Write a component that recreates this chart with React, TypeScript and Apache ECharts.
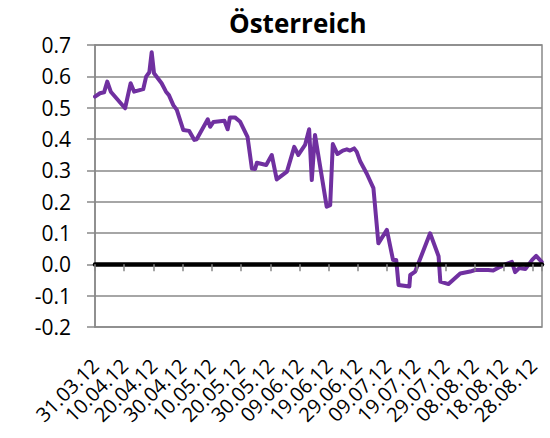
import React, { useEffect, useRef } from "react";
import * as echarts from "echarts";

// Days since 31.03.12 (x) and values (y)
const dayOffsets: number[] = [
  0.0, 1.7, 3.1, 4.2, 5.4, 10.3, 12.2, 13.4, 16.5, 17.5, 18.6, 19.4, 20.2, 22.8, 24.3, 25.3, 26.8, 28.0,
  30.2, 32.2, 34.0, 34.8, 38.6, 39.4, 40.5, 44.3, 45.4, 46.2, 47.9, 49.7, 52.2, 53.7, 54.8, 55.4,
  58.6, 60.5, 62.2, 65.7, 68.2, 69.6, 71.9, 73.3, 74.2, 75.3, 79.3, 80.5, 81.4, 83.0, 84.8, 86.2,
  87.3, 88.7, 89.6, 90.8, 93.0, 95.3, 97.0, 99.9, 102.0, 103.1, 103.9, 107.6, 107.9, 109.6, 114.7,
  117.6, 118.2, 121.0, 125.0, 128.4, 130.1, 134.6, 136.3, 138.7, 140.4, 142.7, 143.8, 145.2, 147.3,
  149.7, 151.0, 152.9,
];
const values: number[] = [
  0.535, 0.546, 0.549, 0.583, 0.551, 0.498, 0.578, 0.551, 0.559, 0.599, 0.613, 0.677, 0.61, 0.578, 0.551, 0.54, 0.508, 0.493,
  0.429, 0.426, 0.397, 0.399, 0.463, 0.439, 0.454, 0.458, 0.431, 0.469, 0.469, 0.455, 0.407, 0.306, 0.304, 0.324,
  0.317, 0.349, 0.271, 0.296, 0.375, 0.349, 0.381, 0.431, 0.269, 0.413, 0.184, 0.189, 0.384, 0.352, 0.363, 0.367,
  0.363, 0.37, 0.359, 0.328, 0.29, 0.243, 0.067, 0.11, 0.014, 0.014, -0.066, -0.071, -0.034, -0.023, 0.099,
  0.026, -0.055, -0.063, -0.029, -0.023, -0.018, -0.018, -0.02, -0.008, 0.0, 0.008, -0.025, -0.012, -0.015,
  0.015, 0.027, 0.008,
];

const TITLE = "Österreich";
const BASE_DATE = Date.UTC(2012, 2, 31);
const X_MAX_DAYS = 153;
const X_STEP_DAYS = 10;

function dayLabel(d: number): string {
  if (Math.round(d) % X_STEP_DAYS !== 0) return "";
  const dt = new Date(BASE_DATE + Math.round(d) * 86400000);
  const dd = String(dt.getUTCDate()).padStart(2, "0");
  const mm = String(dt.getUTCMonth() + 1).padStart(2, "0");
  const yy = String(dt.getUTCFullYear() % 100).padStart(2, "0");
  return `${dd}.${mm}.${yy}`;
}

const GRAY = "#898989";
const FONT = "Open Sans";

export default function App() {
  const ref = useRef<HTMLDivElement>(null);
  useEffect(() => {
    document.body.style.margin = "0";
    const chart = echarts.init(ref.current!, null, { renderer: "svg" });
    chart.setOption({
      animation: false,
      backgroundColor: "#ffffff",
      title: {
        text: TITLE,
        left: 224,
        top: 5,
        textStyle: { fontFamily: FONT, fontWeight: "bold", fontSize: 26, color: "#000" },
      },
      grid: {
        left: 95,
        right: 8,
        top: 45,
        bottom: 111,
        show: true,
        borderColor: GRAY,
        borderWidth: 1.5,
      },
      xAxis: [
        {
          type: "value",
          min: 0,
          max: X_MAX_DAYS,
          interval: X_STEP_DAYS,
          position: "bottom",
          axisLine: { show: false, onZero: false },
          axisTick: { show: false },
          splitLine: { show: false },
          axisLabel: {
            rotate: 45,
            margin: 35,
            fontSize: 20,
            fontFamily: FONT,
            color: "#000",
            formatter: dayLabel,
            hideOverlap: false,
          },
        },
        {
          type: "value",
          min: 0,
          max: X_MAX_DAYS,
          interval: X_STEP_DAYS,
          position: "bottom",
          z: 5,
          axisLine: { show: true, onZero: true, lineStyle: { color: "#000", width: 4.5 } },
          axisTick: { show: true, length: 7, lineStyle: { color: GRAY, width: 1.5 } },
          axisLabel: { show: false },
          splitLine: { show: false },
        },
      ],
      yAxis: {
        type: "value",
        min: -0.2,
        max: 0.7,
        interval: 0.1,
        axisLine: { show: true, lineStyle: { color: GRAY, width: 1.5 } },
        axisTick: { show: true, length: 8, lineStyle: { color: GRAY, width: 1.5 } },
        splitLine: { show: true, lineStyle: { color: GRAY, width: 1.5 } },
        axisLabel: {
          margin: 24,
          fontSize: 21,
          fontFamily: FONT,
          color: "#000",
          formatter: (v: number) => v.toFixed(1),
        },
      },
      series: [
        {
          type: "line",
          xAxisIndex: 0,
          yAxisIndex: 0,
          data: dayOffsets.map((d, i) => [d, values[i]]),
          symbol: "none",
          z: 3,
          lineStyle: { color: "#7030A0", width: 4, join: "round", cap: "round" },
        },
      ],
    });
    return () => chart.dispose();
  }, []);
  return <div ref={ref} style={{ width: 550, height: 438 }} />;
}
